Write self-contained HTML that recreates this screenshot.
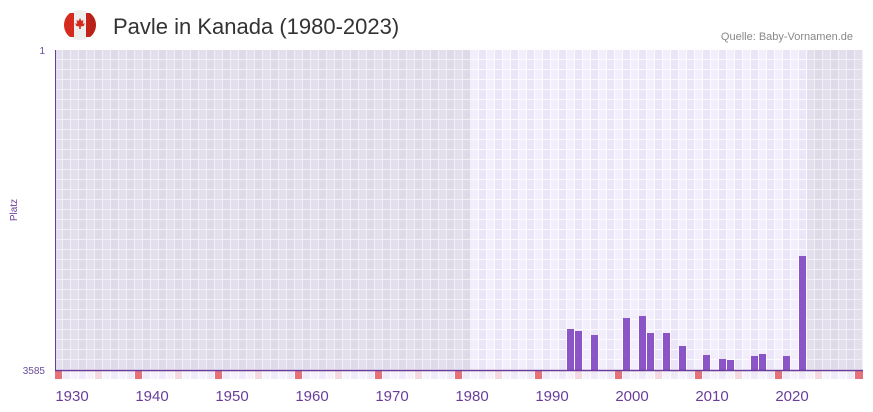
<!DOCTYPE html>
<html><head><meta charset="utf-8"><style>
html,body{margin:0;padding:0;background:#fff;width:873px;height:412px;overflow:hidden}
svg{display:block;font-family:"Liberation Sans",sans-serif}
</style></head><body>
<svg width="873" height="412" viewBox="0 0 873 412">
<defs>
<pattern id="cd" x="55" y="0" width="16" height="10" patternUnits="userSpaceOnUse">
<rect width="8" height="10" fill="#e3dfec"/><rect x="8" width="8" height="10" fill="#dfdae8"/>
<rect x="7" width="1" height="10" fill="#f2f0f6"/><rect x="15" width="1" height="10" fill="#f2f0f6"/>
<rect y="9" width="16" height="1" fill="#f2f0f6"/>
</pattern>
<pattern id="cl" x="55" y="0" width="16" height="10" patternUnits="userSpaceOnUse">
<rect width="8" height="10" fill="#f2eefb"/><rect x="8" width="8" height="10" fill="#ebe6f7"/>
<rect x="7" width="1" height="10" fill="#fcfbff"/><rect x="15" width="1" height="10" fill="#fcfbff"/>
<rect y="9" width="16" height="1" fill="#fcfbff"/>
</pattern>
<pattern id="sl" x="55" y="0" width="16" height="10" patternUnits="userSpaceOnUse">
<rect width="7" height="10" fill="#f5f2fc"/><rect x="8" width="7" height="10" fill="#eeeaf8"/>
</pattern>
</defs>
<!-- flag -->
<circle cx="80" cy="25" r="15" fill="#eee"/>
<path d="M70,13 A15,15 0 0,0 70,37 Z" fill="#d52b1e"/>
<path d="M90,13 A15,15 0 0,1 90,37 Z" fill="#b8201a"/>
<rect x="70" y="13" width="4" height="24" fill="#d52b1e"/>
<rect x="86" y="13" width="4" height="24" fill="#c2231b"/>
<path d="M80,18 l1.5,3 2,-1 -0.7,4 2,-1 -1,3 -3,0.5 v2.5 h-1.6 v-2.5 l-3,-0.5 -1,-3 2,1 -0.7,-4 2,1z" fill="#d52b1e"/>
<text x="113" y="34" font-size="22" fill="#333">Pavle in Kanada (1980-2023)</text>
<text x="853" y="40" font-size="11" fill="#888" text-anchor="end">Quelle: Baby-Vornamen.de</text>
<!-- plot -->
<rect x="55" y="50" width="808" height="320" fill="url(#cd)"/>
<rect x="471" y="50" width="336" height="320" fill="url(#cl)"/>
<rect x="55" y="371" width="808" height="8" fill="url(#sl)"/>
<g fill="#e6717b">
<rect x="55" y="371" width="7" height="8"/><rect x="135" y="371" width="7" height="8"/><rect x="215" y="371" width="7" height="8"/><rect x="295" y="371" width="7" height="8"/><rect x="375" y="371" width="7" height="8"/><rect x="455" y="371" width="7" height="8"/><rect x="535" y="371" width="7" height="8"/><rect x="615" y="371" width="7" height="8"/><rect x="695" y="371" width="7" height="8"/><rect x="775" y="371" width="7" height="8"/><rect x="855" y="371" width="8" height="8"/>
</g>
<g fill="#f4d9e3">
<rect x="95" y="371" width="7" height="8"/><rect x="175" y="371" width="7" height="8"/><rect x="255" y="371" width="7" height="8"/><rect x="335" y="371" width="7" height="8"/><rect x="415" y="371" width="7" height="8"/><rect x="495" y="371" width="7" height="8"/><rect x="575" y="371" width="7" height="8"/><rect x="655" y="371" width="7" height="8"/><rect x="735" y="371" width="7" height="8"/><rect x="815" y="371" width="7" height="8"/>
</g>
<g fill="#8b55c8">
<rect x="567" y="329" width="7" height="41"/>
<rect x="575" y="331" width="7" height="39"/>
<rect x="591" y="335" width="7" height="35"/>
<rect x="623" y="318" width="7" height="52"/>
<rect x="639" y="316" width="7" height="54"/>
<rect x="647" y="333" width="7" height="37"/>
<rect x="663" y="333" width="7" height="37"/>
<rect x="679" y="346" width="7" height="24"/>
<rect x="703" y="355" width="7" height="15"/>
<rect x="719" y="359" width="7" height="11"/>
<rect x="727" y="360" width="7" height="10"/>
<rect x="751" y="356" width="7" height="14"/>
<rect x="759" y="354" width="7" height="16"/>
<rect x="783" y="356" width="7" height="14"/>
<rect x="799" y="256" width="7" height="114"/>
</g>
<line x1="55.5" y1="50" x2="55.5" y2="370" stroke="#6a3d9a" stroke-width="1"/>
<line x1="55" y1="370.5" x2="863" y2="370.5" stroke="#6a3d9a" stroke-width="1.5"/>
<text x="45" y="54" font-size="10" fill="#6a4d9a" text-anchor="end">1</text>
<text x="45" y="374" font-size="10" fill="#6a4d9a" text-anchor="end">3585</text>
<text transform="translate(17,210) rotate(-90)" font-size="10" fill="#6a3d9a" text-anchor="middle">Platz</text>
<g font-size="15" fill="#6a3d9a" text-anchor="middle">
<text x="72" y="401">1930</text><text x="152" y="401">1940</text><text x="232" y="401">1950</text><text x="312" y="401">1960</text><text x="392" y="401">1970</text><text x="472" y="401">1980</text><text x="552" y="401">1990</text><text x="632" y="401">2000</text><text x="712" y="401">2010</text><text x="792" y="401">2020</text>
</g>
</svg>
</body></html>
